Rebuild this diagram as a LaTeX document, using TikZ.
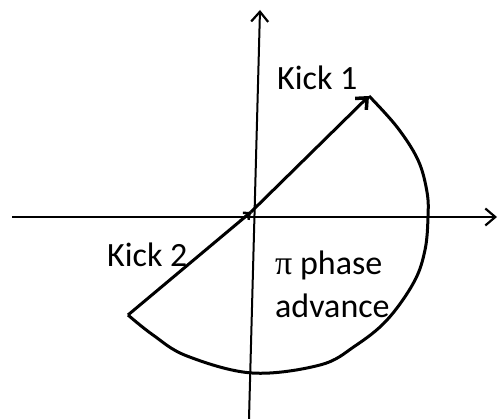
\documentclass[tikz,border=0pt]{standalone}
\usepackage{fontspec}
\setmainfont{Carlito}
\newfontfamily\greekfont{Liberation Serif}
\usetikzlibrary{arrows.meta}
\begin{document}
\begin{tikzpicture}[x=1pt,y=-1pt,
  axis/.style={line width=2pt,-{Straight Barb[length=10pt,width=17pt,line width=2.2pt]}},
  kick/.style={line width=3pt,-{Straight Barb[length=9pt,width=16pt,line width=3.5pt]}},
  lbl/.style={anchor=base west,inner sep=0pt,font=\fontsize{34}{43}\selectfont}]
\useasboundingbox (0,0) rectangle (499,419);
% axes
\coordinate (xl) at (12,217);
\coordinate (xr) at (497,217);
\coordinate (yb) at (249,419);
\coordinate (yt) at (260,10);
\draw[axis] (xl) -- (xr);
\draw[axis] (yb) -- (yt);
% kicks
\coordinate (o) at (251,212);
\coordinate (k1) at (369,96);
\coordinate (k2) at (128,315);
\draw[line width=3pt,line join=round] (k2) -- (o);
\draw[kick] (o) -- (k1);
\draw[line width=2.5pt,-{Straight Barb[length=5pt,width=9pt,line width=2.5pt]}] (240,221) -- (o);
% arc
\draw[line width=3pt,line join=round] plot[smooth,tension=0.6] coordinates
  {(k1) (397,127) (418,160) (427,192) (428,217) (425,250) (414,282) (387,320) (355,346) (320,365) (252,373) (187,356) (153,335) (k2)};
% labels
\node[lbl] (t1) at (277,90) {Kick 1};
\node[lbl] (t2) at (107,267) {Kick 2};
\node[lbl] (t3) at (275,275) {{\greekfont π} phase};
\node[lbl] (t4) at (275,318) {advance};
\end{tikzpicture}
\end{document}
